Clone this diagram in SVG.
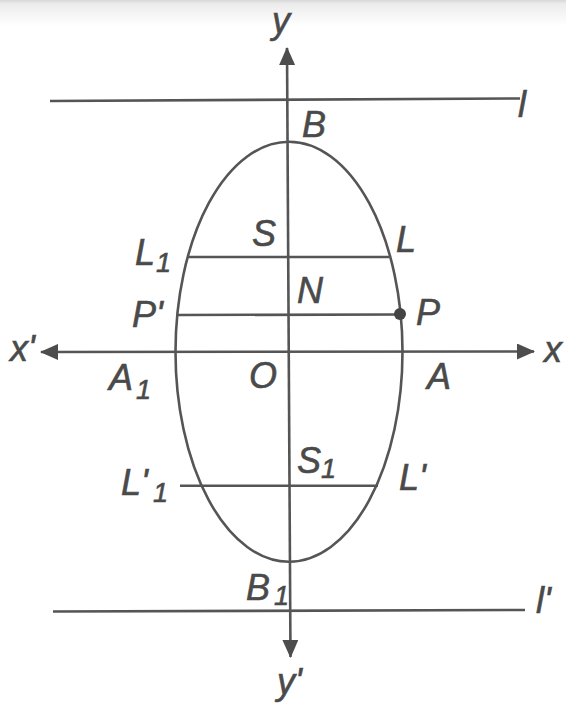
<svg xmlns="http://www.w3.org/2000/svg" width="566" height="703" viewBox="0 0 566 703">
  <defs>
    <linearGradient id="topband" x1="0" y1="0" x2="0" y2="1">
      <stop offset="0" stop-color="#d8d8d8"/>
      <stop offset="0.15" stop-color="#ececec"/>
      <stop offset="1" stop-color="#ffffff"/>
    </linearGradient>
    <marker id="arrow" viewBox="0 0 18 16" markerUnits="userSpaceOnUse" markerWidth="18" markerHeight="16" refX="17" refY="8" orient="auto-start-reverse">
      <path d="M0,0 L18,8 L0,16 z" fill="#4d4d4d"/>
    </marker>
    <style>
      .ln { stroke: #555; stroke-width: 2.6; fill: none; stroke-linecap: butt; }
      .lbl { font-family: "Liberation Sans", Arial, sans-serif; font-style: italic; font-size: 36px; fill: #4a4a4a; stroke: #4a4a4a; stroke-width: 0.6; }
      .sub { font-size: 27px; }
    </style>
  </defs>
  <rect x="0" y="0" width="566" height="703" fill="#ffffff"/>
  <rect x="0" y="0" width="566" height="26" fill="url(#topband)"/>

  <g id="axes">
    <line class="ln" x1="287" y1="48" x2="290.5" y2="657" marker-start="url(#arrow)" marker-end="url(#arrow)"/>
    <line class="ln" x1="41" y1="352" x2="534" y2="351.5" marker-start="url(#arrow)" marker-end="url(#arrow)"/>
  </g>

  <g id="directrices">
    <line class="ln" x1="50" y1="101" x2="520" y2="98.5"/>
    <line class="ln" x1="53" y1="611.5" x2="525" y2="610"/>
  </g>

  <g id="ellipse">
    <ellipse class="ln" cx="289" cy="351.7" rx="113.5" ry="210"/>
  </g>

  <g id="chords">
    <line class="ln" x1="188" y1="257" x2="389" y2="257"/>
    <line class="ln" x1="177" y1="315" x2="400" y2="314.5"/>
    <line class="ln" x1="180" y1="485.7" x2="378" y2="485.7"/>
  </g>

  <g id="point-P">
    <circle cx="400" cy="314" r="6" fill="#444"/>
  </g>

  <g id="labels">
    <text class="lbl" x="272" y="33">y</text>
    <text class="lbl" x="518" y="117">l</text>
    <text class="lbl" x="302" y="137">B</text>
    <text class="lbl" x="252" y="246">S</text>
    <text class="lbl" x="396" y="252">L</text>
    <text class="lbl" x="135" y="265">L<tspan class="sub" x="156" y="272">1</tspan></text>
    <text class="lbl" x="297" y="303">N</text>
    <text class="lbl" x="132" y="327">P'</text>
    <text class="lbl" x="416" y="325">P</text>
    <text class="lbl" x="10" y="361">x'</text>
    <text class="lbl" x="544" y="362">x</text>
    <text class="lbl" x="109" y="390">A<tspan class="sub" x="136" y="399">1</tspan></text>
    <text class="lbl" x="249" y="388">O</text>
    <text class="lbl" x="427" y="389">A</text>
    <text class="lbl" x="297" y="473">S<tspan class="sub" x="321" y="478">1</tspan></text>
    <text class="lbl" x="121" y="495">L'<tspan class="sub" x="153" y="502">1</tspan></text>
    <text class="lbl" x="399" y="490">L'</text>
    <text class="lbl" x="246" y="600">B<tspan class="sub" x="274" y="605">1</tspan></text>
    <text class="lbl" x="536" y="613">l'</text>
    <text class="lbl" x="277" y="694">y'</text>
  </g>
</svg>
